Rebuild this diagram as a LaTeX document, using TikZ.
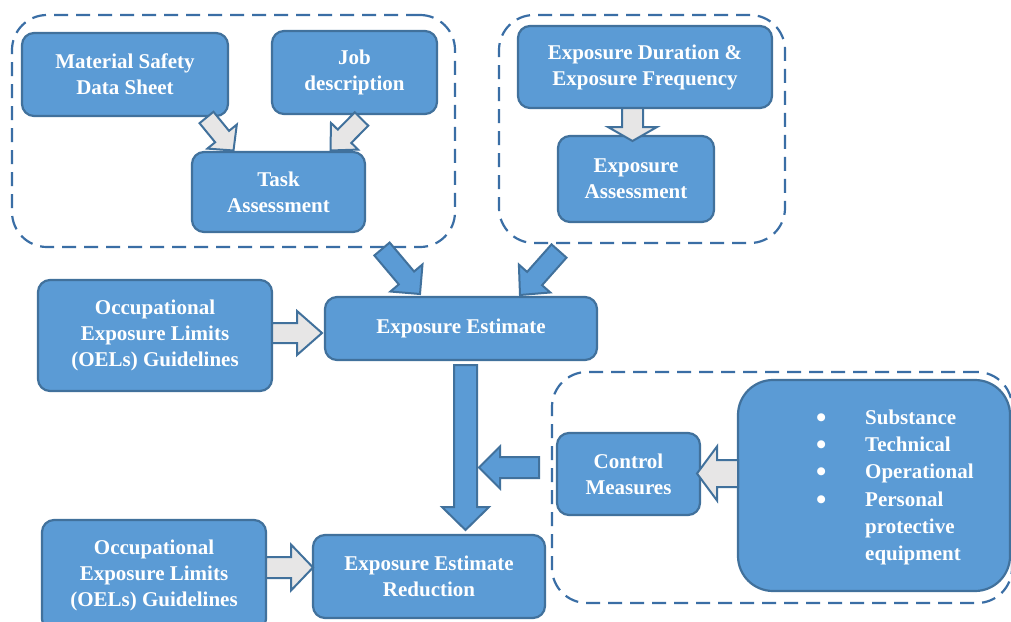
\documentclass[tikz,border=0pt]{standalone}
\usepackage{fontspec}
\setmainfont{Liberation Serif}
\usetikzlibrary{calc}
\definecolor{boxfill}{HTML}{5B9BD5}
\definecolor{boxline}{HTML}{41719C}
\definecolor{dashline}{HTML}{3A6EA5}
\definecolor{grayfill}{HTML}{E7E6E6}
\tikzset{
  box/.style={draw=boxline, fill=boxfill, line width=2.2pt, rounded corners=12pt,
    text=white, font=\bfseries\fontsize{21}{26}\selectfont, align=center, inner sep=0pt},
  group/.style={draw=dashline, line width=2.2pt, dash pattern=on 14pt off 8pt,
    rounded corners=35pt, inner sep=0pt},
  bluearrow/.style={draw=boxline, fill=boxfill, line width=2pt, line join=miter},
  grayarrow/.style={draw=boxline, fill=grayfill, line width=2pt, line join=miter},
}
\newcommand\mybullet{\makebox[48pt][l]{\hspace*{-1pt}\raisebox{-3pt}{\scalebox{1.4}{\textbullet}}}}
% style, from, to, shaft half width, head half width, head length
\newcommand\blockarrow[6]{%
  \path ($(#3)!#6!(#2)$) coordinate (ba-h);
  \draw[#1] ($(#2)!#4!90:(#3)$) -- ($(ba-h)!#4!-90:(#2)$) -- ($(ba-h)!#5!-90:(#2)$)
    -- (#3) -- ($(ba-h)!#5!90:(#2)$) -- ($(ba-h)!#4!90:(#2)$) -- ($(#2)!#4!-90:(#3)$) -- cycle;
}
\begin{document}
\begin{tikzpicture}[x=1pt,y=-1pt]
\fill[white] (0,0) rectangle (1011,621);
\useasboundingbox (0,0) rectangle (1011,621);

% dashed groups
\node[group, minimum width=443pt, minimum height=232pt] (g1) at (233.5,131) {};
\node[group, minimum width=286pt, minimum height=228pt] (g2) at (642,129) {};
\node[group, minimum width=460pt, minimum height=231pt] (g3) at (782,487.5) {};

% boxes
\node[box, minimum width=206pt, minimum height=83pt] (msds) at (125,74.5) {Material Safety\\Data Sheet};
\node[box, minimum width=165pt, minimum height=83pt] (job) at (354.5,72.5) {Job\\description};
\node[box, minimum width=173pt, minimum height=80pt] (task) at (278.5,192) {Task\\Assessment};
\node[box, minimum width=254pt, minimum height=82pt] (dur) at (645,67) {Exposure Duration \&\\Exposure Frequency};
\node[box, minimum width=156pt, minimum height=86pt] (assess) at (636,179) {Exposure\\Assessment};
\node[box, minimum width=272pt, minimum height=63pt] (est) at (461,328.5) {Exposure Estimate};
\node[box, minimum width=234pt, minimum height=111pt] (oel1) at (155,335.5) {Occupational\\Exposure Limits\\(OELs) Guidelines};
\node[box, minimum width=143pt, minimum height=82pt] (ctrl) at (628.5,474) {Control\\Measures};
\node[box, minimum width=272pt, minimum height=211pt, rounded corners=35pt] (types) at (874,485.5) {};
\node[text=white, font=\bfseries\fontsize{21}{27.2}\selectfont, align=left, inner sep=0pt, anchor=west] (typestext) at (817,487.5)
  {\mybullet Substance\\
   \mybullet Technical\\
   \mybullet Operational\\
   \mybullet Personal\\
   \hspace*{48pt}protective\\
   \hspace*{48pt}equipment};
\node[box, minimum width=232pt, minimum height=83pt] (red) at (429,576.5) {Exposure Estimate\\Reduction};
\node[box, minimum width=224pt, minimum height=111pt] (oel2) at (154,575.5) {Occupational\\Exposure Limits\\(OELs) Guidelines};

% connector end points
\coordinate (aS) at (206.5,117.5);  \coordinate (aT) at (233.5,150.5);
\coordinate (bS) at (361.5,119);    \coordinate (bT) at (330.5,150.5);
\coordinate (cS) at (632.5,108);    \coordinate (cT) at (632.5,141);
\coordinate (dS) at (272,333);      \coordinate (dT) at (322,333);
\coordinate (eS) at (266,567.5);    \coordinate (eT) at (313,567.5);
\coordinate (fS) at (738,473.5);    \coordinate (fT) at (697,473.5);
\coordinate (g1S) at (382,249);     \coordinate (g1T) at (420,294);
\coordinate (g2S) at (559,251);     \coordinate (g2T) at (520,295);
\coordinate (vS) at (465.5,365);    \coordinate (vT) at (465.5,530);
\coordinate (hS) at (539,467.5);    \coordinate (hT) at (479,467.5);

% gray block arrows
\blockarrow{grayarrow}{aS}{aT}{9pt}{19pt}{18pt}
\blockarrow{grayarrow}{bS}{bT}{9.5pt}{19pt}{20pt}
\blockarrow{grayarrow}{cS}{cT}{10.5pt}{24.5pt}{14pt}
\blockarrow{grayarrow}{dS}{dT}{10pt}{22pt}{25pt}
\blockarrow{grayarrow}{eS}{eT}{10.5pt}{23pt}{22pt}
\blockarrow{grayarrow}{fS}{fT}{13.5pt}{27pt}{20pt}

% blue block arrows
\blockarrow{bluearrow}{g1S}{g1T}{10pt}{21pt}{21pt}
\blockarrow{bluearrow}{g2S}{g2T}{10pt}{21pt}{22pt}
\blockarrow{bluearrow}{vS}{vT}{11.5pt}{23.5pt}{23pt}
\blockarrow{bluearrow}{hS}{hT}{10.5pt}{21pt}{21pt}
\end{tikzpicture}
\end{document}
